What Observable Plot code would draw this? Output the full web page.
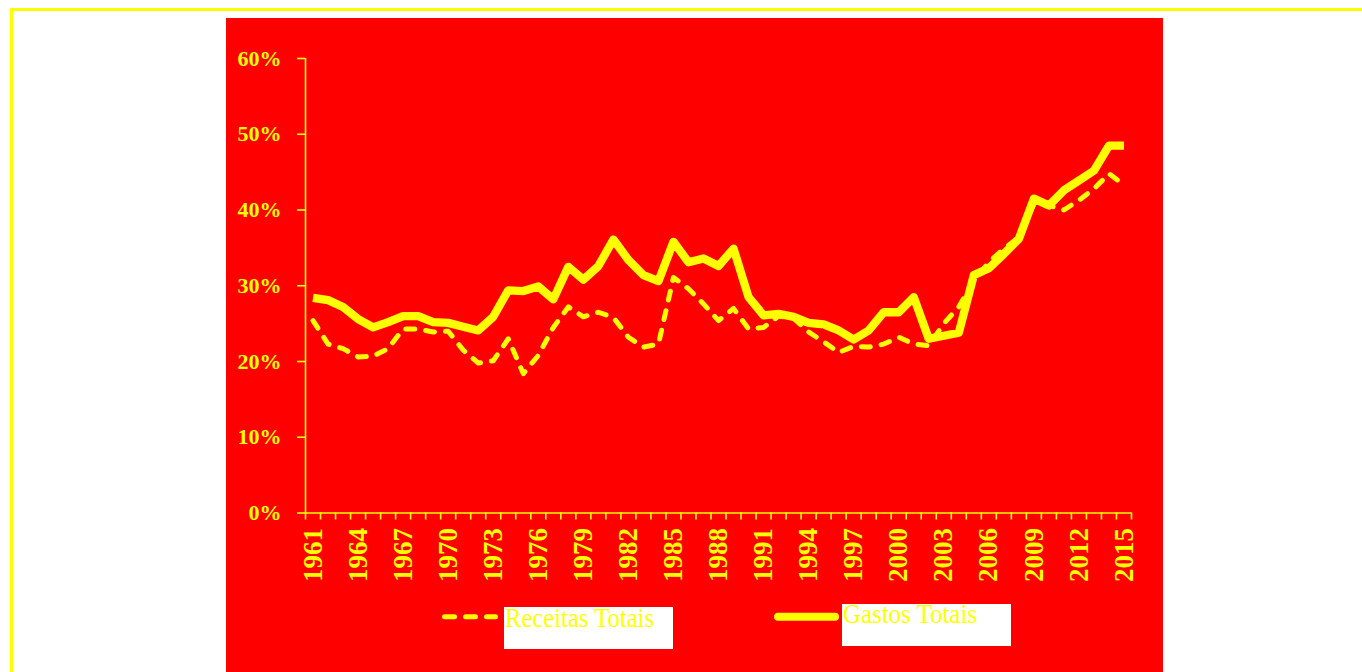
<!DOCTYPE html>
<html>
<head>
<meta charset="utf-8">
<script src="https://cdn.jsdelivr.net/npm/d3@7"></script>
<script src="https://cdn.jsdelivr.net/npm/@observablehq/plot@0.6"></script>
<style>
  html, body { margin: 0; padding: 0; background: #ffffff; overflow: hidden; width: 1362px; height: 672px; }
  #frame {
    position: absolute; left: 10px; top: 8px; right: -20px; bottom: -20px;
    border-left: 3px solid #ffff00; border-top: 3px solid #ffff00;
  }
  #panel {
    position: absolute; left: 226px; top: 18px; width: 937px; height: 680px;
    background: #ff0000;
  }
  #chart { position: absolute; left: 0; top: 0; }
  #legend { position: absolute; left: 0; top: 0; }
</style>
</head>
<body>
<div id="frame"></div>
<div id="panel">
  <div id="chart"></div>
  <svg id="legend" width="937" height="680"></svg>
</div>
<script>
// Annual series, share of GDP (%)
const years = d3.range(1961, 2016);

const receitas = [
  25.4, 22.3, 21.7, 20.6, 20.7, 21.7, 24.3, 24.3, 23.9, 24.0,
  21.5, 19.8, 20.1, 23.0, 18.4, 20.8, 24.5, 27.2, 25.9, 26.5,
  25.8, 23.2, 21.9, 22.3, 31.1, 29.6, 27.6, 25.4, 27.0, 24.3,
  24.5, 26.0, 25.7, 23.9, 22.6, 21.2, 22.0, 21.9, 22.3, 23.2,
  22.3, 22.1, 25.0, 27.2, 30.7, 33.1, 34.9, 36.4, 40.8, 40.6,
  40.0, 41.3, 42.8, 44.8, 43.3
];

const gastos = [
  28.4, 28.1, 27.2, 25.6, 24.5, 25.2, 26.0, 26.0, 25.2, 25.1,
  24.6, 24.1, 25.9, 29.4, 29.3, 29.9, 28.2, 32.5, 30.8, 32.6,
  36.1, 33.4, 31.4, 30.6, 35.8, 33.1, 33.6, 32.6, 34.9, 28.5,
  26.1, 26.3, 25.9, 25.1, 24.9, 24.1, 22.9, 24.1, 26.5, 26.5,
  28.5, 23.0, 23.4, 23.8, 31.4, 32.3, 34.2, 36.2, 41.5, 40.6,
  42.6, 43.9, 45.2, 48.5, 48.5
];

const yTicks = [0, 10, 20, 30, 40, 50, 60];
const labelYears = years.filter((d, i) => i % 3 === 0);
const legendLabels = ["Receitas Totais", "Gastos Totais"];

const YELLOW = "#ffff00";
const FONT = "'Liberation Serif', 'Times New Roman', serif";

const rows = years.map((year, i) => ({year, receitas: receitas[i], gastos: gastos[i]}));
// category boundaries: each year occupies one slot between half-years
const boundaries = d3.range(1960.5, 2016, 1);

const chart = Plot.plot({
  width: 937,
  height: 585,
  marginLeft: 79,
  marginRight: 32,
  marginTop: 40,
  marginBottom: 90.5,
  style: {background: "transparent", overflow: "visible", fontFamily: FONT},
  x: {domain: [1960.5, 2015.5]},
  y: {domain: [0, 60]},
  marks: [
    Plot.ruleX([1960.5], {y1: 0, y2: 60, stroke: YELLOW, strokeWidth: 1.6}),
    Plot.ruleY([0], {x1: 1960.5, x2: 2015.5, stroke: YELLOW, strokeWidth: 1.6}),
    Plot.axisY({
      ticks: yTicks, tickSize: 8, tickPadding: 16, label: null,
      tickFormat: d => `${d}%`,
      stroke: YELLOW, strokeWidth: 1.6, fill: YELLOW,
      fontSize: 22, fontWeight: "bold", fontFamily: FONT
    }),
    Plot.axisX({
      ticks: boundaries, tickSize: 7, label: null,
      tickFormat: () => null,
      stroke: YELLOW, strokeWidth: 1.6
    }),
    Plot.axisX({
      ticks: labelYears, tickSize: 0, tickPadding: 15, tickRotate: -90, label: null,
      tickFormat: d => String(d),
      fill: YELLOW, fontSize: 27, fontWeight: "bold", fontFamily: FONT,
      ariaLabel: "year labels"
    }),
    Plot.line(rows, {
      x: "year", y: "gastos", stroke: YELLOW, strokeWidth: 8.3,
      strokeLinejoin: "round", strokeLinecap: "butt"
    }),
    Plot.line(rows, {
      x: "year", y: "receitas", stroke: YELLOW, strokeWidth: 5,
      strokeLinejoin: "round", strokeLinecap: "round", strokeDasharray: "9,11"
    })
  ]
});
document.getElementById("chart").appendChild(chart);

// condensed year labels: tall glyphs fitted to a fixed run length
d3.select(chart).selectAll("g[aria-label='year labels'] text")
  .attr("textLength", 49).attr("lengthAdjust", "spacingAndGlyphs");

// Legend below the plot, drawn in the panel's own coordinates
const legend = d3.select("#legend");
const ox = 226, oy = 18;

legend.append("line")
  .attr("x1", 444.5 - ox).attr("x2", 495.5 - ox)
  .attr("y1", 616.7 - oy).attr("y2", 616.7 - oy)
  .attr("stroke", YELLOW).attr("stroke-width", 5)
  .attr("stroke-linecap", "round").attr("stroke-dasharray", "10,11");
legend.append("rect")
  .attr("x", 504 - ox).attr("y", 607 - oy).attr("width", 169).attr("height", 42)
  .attr("fill", "#ffffff");
legend.append("text")
  .attr("x", 505 - ox).attr("y", 627.3 - oy)
  .attr("fill", YELLOW).attr("font-family", FONT).attr("font-size", 27)
  .attr("textLength", 149).attr("lengthAdjust", "spacingAndGlyphs")
  .text(legendLabels[0]);

legend.append("line")
  .attr("x1", 778 - ox).attr("x2", 835 - ox)
  .attr("y1", 616.7 - oy).attr("y2", 616.7 - oy)
  .attr("stroke", YELLOW).attr("stroke-width", 8)
  .attr("stroke-linecap", "round");
legend.append("rect")
  .attr("x", 842 - ox).attr("y", 604 - oy).attr("width", 169).attr("height", 42)
  .attr("fill", "#ffffff");
legend.append("text")
  .attr("x", 843 - ox).attr("y", 623.3 - oy)
  .attr("fill", YELLOW).attr("font-family", FONT).attr("font-size", 27)
  .attr("textLength", 134).attr("lengthAdjust", "spacingAndGlyphs")
  .text(legendLabels[1]);
</script>
</body>
</html>
